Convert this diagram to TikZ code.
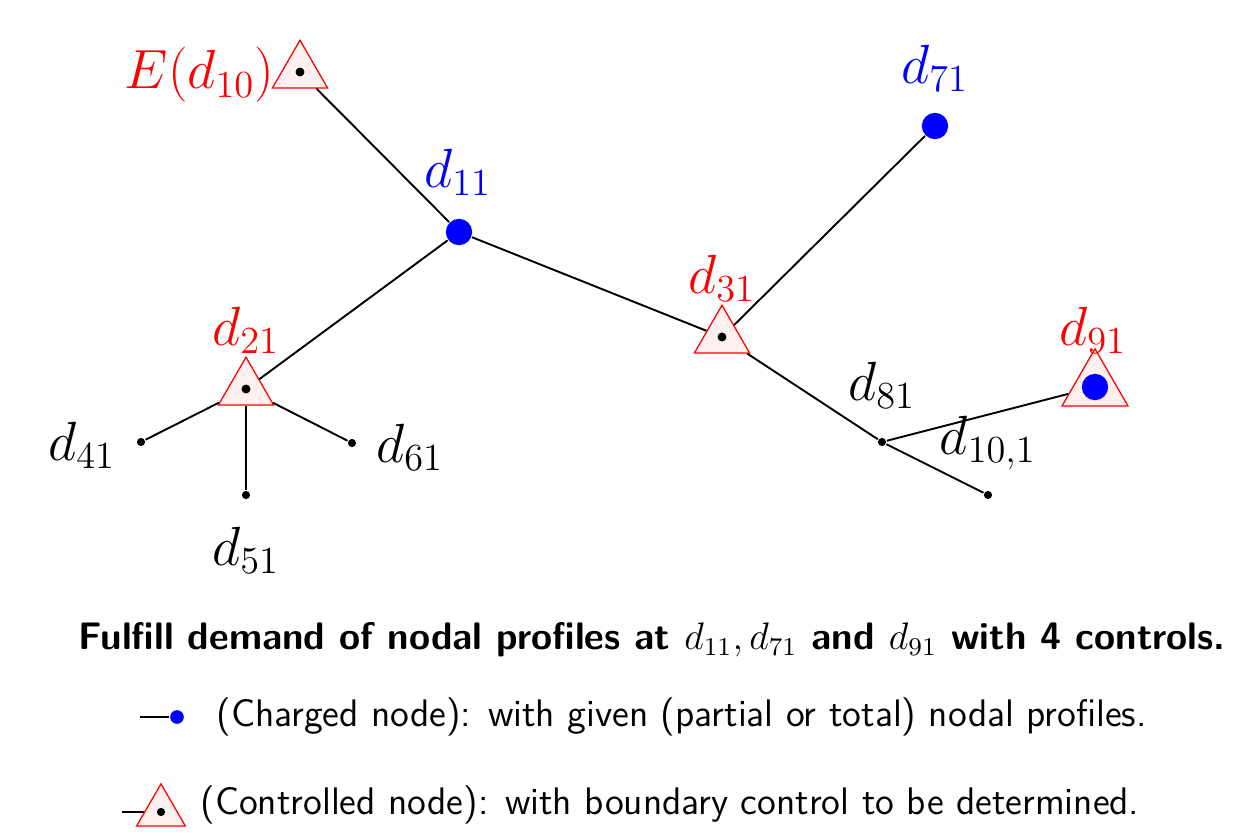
\documentclass[tikz,border=0pt]{standalone}
\usepackage{amsmath,amssymb}
\usetikzlibrary{shapes.geometric,positioning}

\begin{document}
\begin{tikzpicture}[x=0.011cm, y=-0.011cm, semithick,
  ctrl/.style={regular polygon, regular polygon sides=3, draw=red, thin, fill=red!6, inner sep=0pt, minimum size=0.70cm},
  charged/.style={circle, fill=blue, inner sep=0pt, minimum size=0.29cm},
  leaf/.style={circle, fill=black, inner sep=0pt, minimum size=0.09cm},
  lbl/.style={font=\LARGE}]
\useasboundingbox (0,0) rectangle (1258,837);
% tree
\node[ctrl] (e10) at (300,72) {};
\node[charged] (d11) at (459,232) {};
\node[ctrl] (d21) at (246,389) {};
\node[ctrl] (d31) at (722,337) {};
\node[charged] (d71) at (935,126) {};
\node[leaf] (d41) at (141,442) {};
\node[leaf] (d51) at (246,495) {};
\node[leaf] (d61) at (352,443) {};
\node[leaf] (d81) at (882,442) {};
\node[leaf] (d101) at (988,495) {};
\node[ctrl, minimum size=0.84cm] (d91) at (1095,387) {};
\node[charged] at (d91) {};
\foreach \n in {e10,d21,d31} \fill (\n) circle (1.4pt);
\draw (e10) -- (d11);
\draw (d11) -- (d21);
\draw (d11) -- (d31);
\draw (d31) -- (d71);
\draw (d31) -- (d81);
\draw (d81) -- (d91);
\draw (d81) -- (d101);
\draw (d21) -- (d41);
\draw (d21) -- (d51);
\draw (d21) -- (d61);
% labels
\node[lbl, red, anchor=east] (le10) at (286,75) {$E(d_{10})$};
\node[lbl, blue] (l11) at (458,172) {$d_{11}$};
\node[lbl, blue] (l71) at (935,68) {$d_{71}$};
\node[lbl, red] (l21) at (246,330) {$d_{21}$};
\node[lbl, red] (l31) at (722,278) {$d_{31}$};
\node[lbl, red] (l91) at (1093,330) {$d_{91}$};
\node[lbl] (l41) at (82,445) {$d_{41}$};
\node[lbl] (l51) at (246,550) {$d_{51}$};
\node[lbl] (l61) at (410,447) {$d_{61}$};
\node[lbl] (l81) at (882,385) {$d_{81}$};
\node[lbl] (l101) at (988,443) {$d_{10,1}$};
% caption and legend
\node[font=\large\sffamily\bfseries] (cap) at (652,640) {Fulfill demand of nodal profiles at $d_{11}, d_{71}$ and $d_{91}$ with 4 controls.};
\coordinate (ca) at (140,717);
\node[charged, minimum size=0.15cm] (cb) at (177,717) {};
\draw (ca) -- (cb);
\node[font=\large\sffamily, anchor=west] (ctext) at (205,717) {(Charged node): with given (partial or total) nodal profiles.};
\coordinate (ta) at (122,812);
\node[ctrl, minimum size=0.62cm] (tb) at (161,812) {};
\fill (tb) circle (1.3pt);
\draw (ta) -- (tb);
\node[font=\large\sffamily, anchor=west] (ttext) at (189,805) {(Controlled node): with boundary control to be determined.};
\end{tikzpicture}
\end{document}
